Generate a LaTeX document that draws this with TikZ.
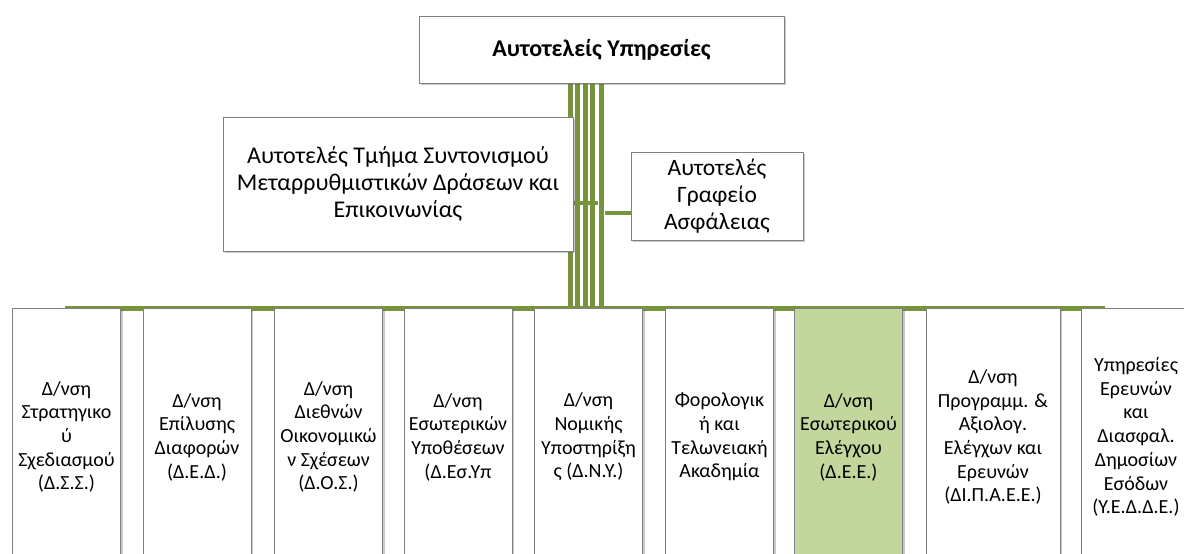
\documentclass[tikz,border=0pt]{standalone}
\usepackage{fontspec}
\setmainfont{Carlito}
\usetikzlibrary{shadows,backgrounds}

\definecolor{barGreen}{RGB}{119,147,60}
\definecolor{lightGreen}{RGB}{195,214,155}
\definecolor{boxLine}{RGB}{128,128,128}

\tikzset{
  unit/.style={draw=boxLine, line width=0.9pt, fill=white, rectangle, align=center, inner sep=2pt,
    drop shadow={shadow xshift=2pt, shadow yshift=-2pt, opacity=0.3, fill=black!70}},
  dept/.style={unit, minimum width=108pt, minimum height=258pt, font=\fontsize{20}{23.7}\selectfont},
  bar/.style={draw=barGreen, line width=5pt}
}

\begin{document}
\begin{tikzpicture}[x=1pt,y=-1pt]
\useasboundingbox (0,0) rectangle (1184,554);

\node[unit, minimum width=365pt, minimum height=67pt, font=\fontsize{24}{28}\selectfont\bfseries] (head) at (601.5,49.5) {Αυτοτελείς Υπηρεσίες};
\node[unit, minimum width=350pt, minimum height=134pt, font=\fontsize{24}{27}\selectfont] (tmima) at (398,184) {Αυτοτελές Τμήμα Συντονισμού\\Μεταρρυθμιστικών Δράσεων και\\Επικοινωνίας};
\node[unit, minimum width=172pt, minimum height=88pt, font=\fontsize{23.5}{26.7}\selectfont] (grafeio) at (717,196) {Αυτοτελές\\Γραφείο\\Ασφάλειας};

\node[dept] (dss) at (66.5,437) {Δ/νση\\Στρατηγικο\\ύ\\Σχεδιασμού\\(Δ.Σ.Σ.)};
\node[dept] (ded) at (197,437) {Δ/νση\\Επίλυσης\\Διαφορών\\(Δ.Ε.Δ.)};
\node[dept] (dos) at (328.5,437) {Δ/νση\\Διεθνών\\Οικονομικώ\\ν Σχέσεων\\(Δ.Ο.Σ.)};
\node[dept] (desyp) at (458,437) {Δ/νση\\Εσωτερικών\\Υποθέσεων\\(Δ.Εσ.Υπ};
\node[dept] (dny) at (588.5,437) {Δ/νση\\Νομικής\\Υποστηρίξη\\ς (Δ.Ν.Υ.)};
\node[dept] (akad) at (719.5,437) {Φορολογικ\\ή και\\Τελωνειακή\\Ακαδημία};
\node[dept, fill=lightGreen] (dee) at (848.5,437) {Δ/νση\\Εσωτερικού\\Ελέγχου\\(Δ.Ε.Ε.)};
\node[dept, minimum width=134pt] (dipaee) at (993,437) {Δ/νση\\Προγραμμ. \&\\Αξιολογ.\\Ελέγχων και\\Ερευνών\\(ΔΙ.Π.Α.Ε.Ε.)};
\node[dept, minimum width=110pt] (yedde) at (1136,437) {Υπηρεσίες\\Ερευνών\\και\\Διασφαλ.\\Δημοσίων\\Εσόδων\\(Υ.Ε.Δ.Δ.Ε.)};

% green bus and stacked drop lines
\begin{scope}[on background layer]
\coordinate (busL) at (65,308.5);
\coordinate (busR) at (1105,308.5);
\draw[bar] (busL) -- (busR);
\foreach \dx [count=\i] in {-31.5,-24,-16.5,-9,-0.5}{
  \coordinate (drop\i) at ([xshift=\dx]head.south);
  \draw[bar] (drop\i) -- (drop\i |- busL);
}
\coordinate (jL) at (598,203);
\coordinate (jR) at (605,213);
\draw[bar, line width=4pt] (tmima.east |- jL) -- (jL);
\draw[bar, line width=4pt] (jR) -- (grafeio.west |- jR);
\end{scope}
\end{tikzpicture}
\end{document}
